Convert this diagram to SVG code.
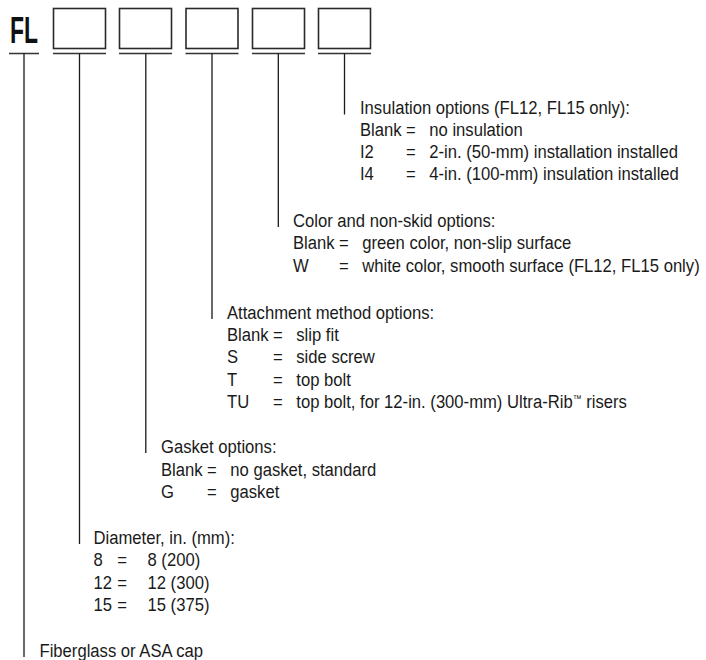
<svg xmlns="http://www.w3.org/2000/svg" width="706" height="660" viewBox="0 0 706 660">
<style>
.bx{fill:#fff;stroke:#2a2a2a;stroke-width:1.6}
.ul{stroke:#333;stroke-width:1.6;fill:none}
.ln{stroke:#1a1a1a;stroke-width:1.3;fill:none}
.t{font-family:"Liberation Sans",Arial,sans-serif;font-size:18.5px;fill:#1a1a1a}
.fl{font-family:"Liberation Sans",Arial,sans-serif;font-weight:bold;font-size:36px;fill:#111}
</style>
<rect width="706" height="660" fill="#fff"/>
<g id="code-fl"><text class="fl" x="10" y="43" textLength="28" lengthAdjust="spacingAndGlyphs">FL</text></g>
<g id="box-1"><rect class="bx" x="53.5" y="8.5" width="52" height="40"/></g>
<g id="box-2"><rect class="bx" x="119.5" y="8.5" width="52" height="40"/></g>
<g id="box-3"><rect class="bx" x="186" y="8.5" width="52" height="40"/></g>
<g id="box-4"><rect class="bx" x="252.5" y="8.5" width="52" height="40"/></g>
<g id="box-5"><rect class="bx" x="318.5" y="8.5" width="52" height="40"/></g>
<g id="connectors">
<path class="ul" d="M9 53.5H39M53 53.5H106M119 53.5H172M185.5 53.5H238.5M252 53.5H305M318 53.5H371"/>
<path class="ln" d="M24 53.5V657M79.5 53.5V544M145.8 53.5V453M212 53.5V319M278.3 53.5V227M344.5 53.5V114.5"/>
</g>
<g id="opt-insulation" class="t" transform="translate(360 0) scale(0.9 1)">
<text x="0" y="114.5">Insulation options (FL12, FL15 only):</text>
<text x="0" y="136.5">Blank</text><text x="51" y="136.5">=</text><text x="77" y="136.5">no insulation</text>
<text x="0" y="158.5">I2</text><text x="51" y="158.5">=</text><text x="77" y="158.5">2-in. (50-mm) installation installed</text>
<text x="0" y="180.5">I4</text><text x="51" y="180.5">=</text><text x="77" y="180.5">4-in. (100-mm) insulation installed</text>
</g>
<g id="opt-color" class="t" transform="translate(293 0) scale(0.9 1)">
<text x="0" y="227">Color and non-skid options:</text>
<text x="0" y="249.5">Blank</text><text x="51" y="249.5">=</text><text x="77" y="249.5">green color, non-slip surface</text>
<text x="0" y="272">W</text><text x="51" y="272">=</text><text x="77" y="272">white color, smooth surface (FL12, FL15 only)</text>
</g>
<g id="opt-attachment" class="t" transform="translate(227 0) scale(0.9 1)">
<text x="0" y="319">Attachment method options:</text>
<text x="0" y="341.5">Blank</text><text x="51" y="341.5">=</text><text x="77" y="341.5">slip fit</text>
<text x="0" y="363.5">S</text><text x="51" y="363.5">=</text><text x="77" y="363.5">side screw</text>
<text x="0" y="386">T</text><text x="51" y="386">=</text><text x="77" y="386">top bolt</text>
<text x="0" y="408">TU</text><text x="51" y="408">=</text><text x="77" y="408">top bolt, for 12-in. (300-mm) Ultra-Rib<tspan font-size="10" dy="-6">™</tspan><tspan dy="6"> risers</tspan></text>
</g>
<g id="opt-gasket" class="t" transform="translate(161 0) scale(0.9 1)">
<text x="0" y="453">Gasket options:</text>
<text x="0" y="476">Blank</text><text x="51" y="476">=</text><text x="77" y="476">no gasket, standard</text>
<text x="0" y="498">G</text><text x="51" y="498">=</text><text x="77" y="498">gasket</text>
</g>
<g id="opt-diameter" class="t" transform="translate(93.5 0) scale(0.9 1)">
<text x="0" y="544">Diameter, in. (mm):</text>
<text x="0" y="566.5">8</text><text x="26.5" y="566.5">=</text><text x="60" y="566.5">8 (200)</text>
<text x="0" y="589">12</text><text x="26.5" y="589">=</text><text x="60" y="589">12 (300)</text>
<text x="0" y="611.5">15</text><text x="26.5" y="611.5">=</text><text x="60" y="611.5">15 (375)</text>
</g>
<g id="opt-material" class="t" transform="translate(39.5 0) scale(0.9 1)">
<text x="0" y="657">Fiberglass or ASA cap</text>
</g>
</svg>
